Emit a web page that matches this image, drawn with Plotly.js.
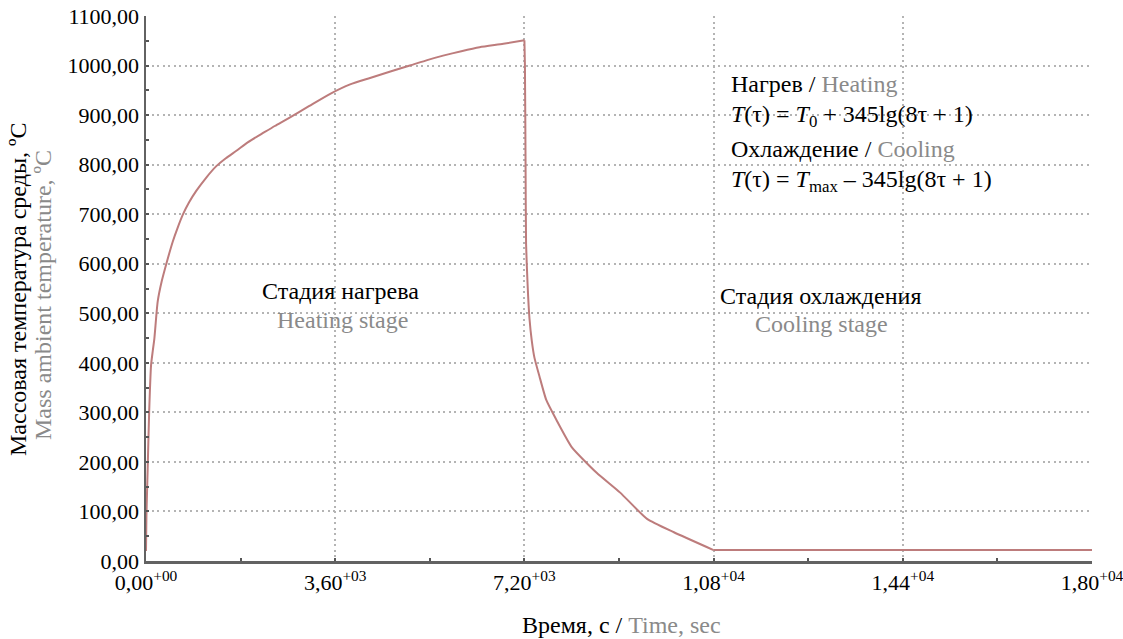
<!DOCTYPE html>
<html>
<head>
<meta charset="utf-8">
<script src="https://cdn.plot.ly/plotly-3.0.1.min.js"></script>
<style>html,body{margin:0;padding:0;background:#fff;}#chart{width:1123px;height:639px;}</style>
</head>
<body>
<div id="chart"></div>
<script>
// Heating stage (time, s ; temperature, °C)
const heatTime = [0, 8, 20, 32, 60, 96, 130, 159, 223, 300, 382, 510, 600, 701, 820, 956, 1140, 1338, 1520, 1720, 1950, 2200, 2450, 2700, 3100, 3505, 3884, 4263, 4650, 5021, 5350, 5653, 6000, 6347, 6800, 7200];
const heatTemp = [20, 90, 140, 186, 300, 395, 425, 449, 524, 565, 598, 645, 672, 699, 724, 747, 773, 797, 813, 828, 846, 862, 878, 893, 918, 943, 962, 975, 988, 1000, 1011, 1020, 1029, 1037, 1044, 1051];
// Cooling stage
const coolTime = [7200, 7210, 7222, 7232, 7260, 7296, 7340, 7392, 7488, 7616, 7808, 8100, 8575, 9022, 9534, 10045, 10800];
const coolTemp = [1051, 1000, 800, 640, 560, 490, 445, 410, 372, 325, 285, 230, 178, 138, 85, 58, 22];
// Steady state after cooling
const tailTime = [10800, 18000];
const tailTemp = [22, 22];

const xTickVals = [0, 3600, 7200, 10800, 14400, 18000];
const xTickText = ['0,00<sup>+00</sup>', '3,60<sup>+03</sup>', '7,20<sup>+03</sup>', '1,08<sup>+04</sup>', '1,44<sup>+04</sup>', '1,80<sup>+04</sup>'];
const yTickVals = [0, 100, 200, 300, 400, 500, 600, 700, 800, 900, 1000, 1100];
const yTickText = ['0,00', '100,00', '200,00', '300,00', '400,00', '500,00', '600,00', '700,00', '800,00', '900,00', '1000,00', '1100,00'];

const L = 146, T = 16, W = 946, H = 545;
const px = x => (x - L) / W;
const py = y => (T + H - y) / H;
const GRAY = '#8a8a8a';
const FONT = 'Liberation Serif, Times New Roman, serif';
const LINE = {color: '#bd7c7c', width: 2};
const FS = 24;

const traces = [
  {x: heatTime, y: heatTemp, type: 'scatter', mode: 'lines', line: Object.assign({shape: 'spline', smoothing: 0.6}, LINE), hoverinfo: 'none', showlegend: false},
  {x: coolTime, y: coolTemp, type: 'scatter', mode: 'lines', line: Object.assign({shape: 'spline', smoothing: 0.5}, LINE), hoverinfo: 'none', showlegend: false},
  {x: tailTime, y: tailTemp, type: 'scatter', mode: 'lines', line: LINE, hoverinfo: 'none', showlegend: false}
];

function ann(text, x, y, opts) {
  return Object.assign({
    text: text, xref: 'paper', yref: 'paper', x: px(x), y: py(y),
    xanchor: 'center', yanchor: 'middle', showarrow: false,
    font: {family: FONT, size: FS, color: '#000'}
  }, opts || {});
}
const grayFont = {family: FONT, size: FS, color: GRAY};

const annotations = [
  ann('Массовая температура среды, ºC', 18, 290, {textangle: -90}),
  ann('Mass ambient temperature, ºC', 43, 295, {textangle: -90, font: grayFont}),
  ann('Время, с / <span style="color:' + GRAY + '">Time, sec</span>', 621, 625),
  ann('Нагрев / <span style="color:' + GRAY + '">Heating</span>', 729, 84, {xanchor: 'left'}),
  ann('<i>T</i>(τ) = <i>T</i><sub>0</sub> + 345lg(8τ + 1)', 729, 116, {xanchor: 'left'}),
  ann('Охлаждение / <span style="color:' + GRAY + '">Cooling</span>', 729, 149, {xanchor: 'left'}),
  ann('<i>T</i>(τ) = <i>T</i><sub>max</sub> – 345lg(8τ + 1)', 729, 181, {xanchor: 'left'}),
  ann('Стадия нагрева', 340, 291),
  ann('Heating stage', 342, 320, {font: grayFont}),
  ann('Стадия охлаждения', 820, 296),
  ann('Cooling stage', 821, 324, {font: grayFont})
];

function box(x0, y0, x1, y1) {
  return {type: 'rect', xref: 'paper', yref: 'paper', x0: px(x0), x1: px(x1), y0: py(y1), y1: py(y0),
    fillcolor: '#ffffff', line: {width: 0}, layer: 'between'};
}
const shapes = [box(663, 28, 1010, 224), box(258, 274, 425, 334), box(716, 270, 925, 343)];
const gridStyle = {gridcolor: '#b4b4b4', gridwidth: 2, griddash: '2px,3.5px'};

const layout = {
  width: 1123, height: 639,
  margin: {l: L, r: 1123 - L - W, t: T, b: 639 - T - H, pad: 0},
  paper_bgcolor: '#fff', plot_bgcolor: '#fff',
  font: {family: FONT, size: 22, color: '#000'},
  showlegend: false,
  xaxis: Object.assign({
    range: [0, 18000], tickmode: 'array', tickvals: xTickVals, ticktext: xTickText,
    showline: true, linecolor: '#626262', linewidth: 2.5, zeroline: false,
    ticks: 'inside', ticklen: 3, tickwidth: 2, tickcolor: '#555', ticklabeloverflow: 'allow',
    minor: {dtick: 1800, tick0: 0, ticks: 'inside', ticklen: 3, tickwidth: 2, tickcolor: '#555', showgrid: false},
    tickfont: {family: FONT, size: 22, color: '#000'}, fixedrange: true
  }, gridStyle),
  yaxis: Object.assign({
    range: [0, 1100], tickmode: 'array', tickvals: yTickVals, ticktext: yTickText,
    showline: true, linecolor: '#626262', linewidth: 2.5, zeroline: false,
    ticks: 'inside', ticklen: 3, tickwidth: 2, tickcolor: '#555',
    minor: {dtick: 50, tick0: 0, ticks: 'inside', ticklen: 3, tickwidth: 2, tickcolor: '#555', showgrid: false},
    tickfont: {family: FONT, size: 22, color: '#000'}, fixedrange: true
  }, gridStyle),
  annotations: annotations,
  shapes: shapes
};

Plotly.newPlot('chart', traces, layout, {displayModeBar: false, staticPlot: true});
</script>
</body>
</html>
